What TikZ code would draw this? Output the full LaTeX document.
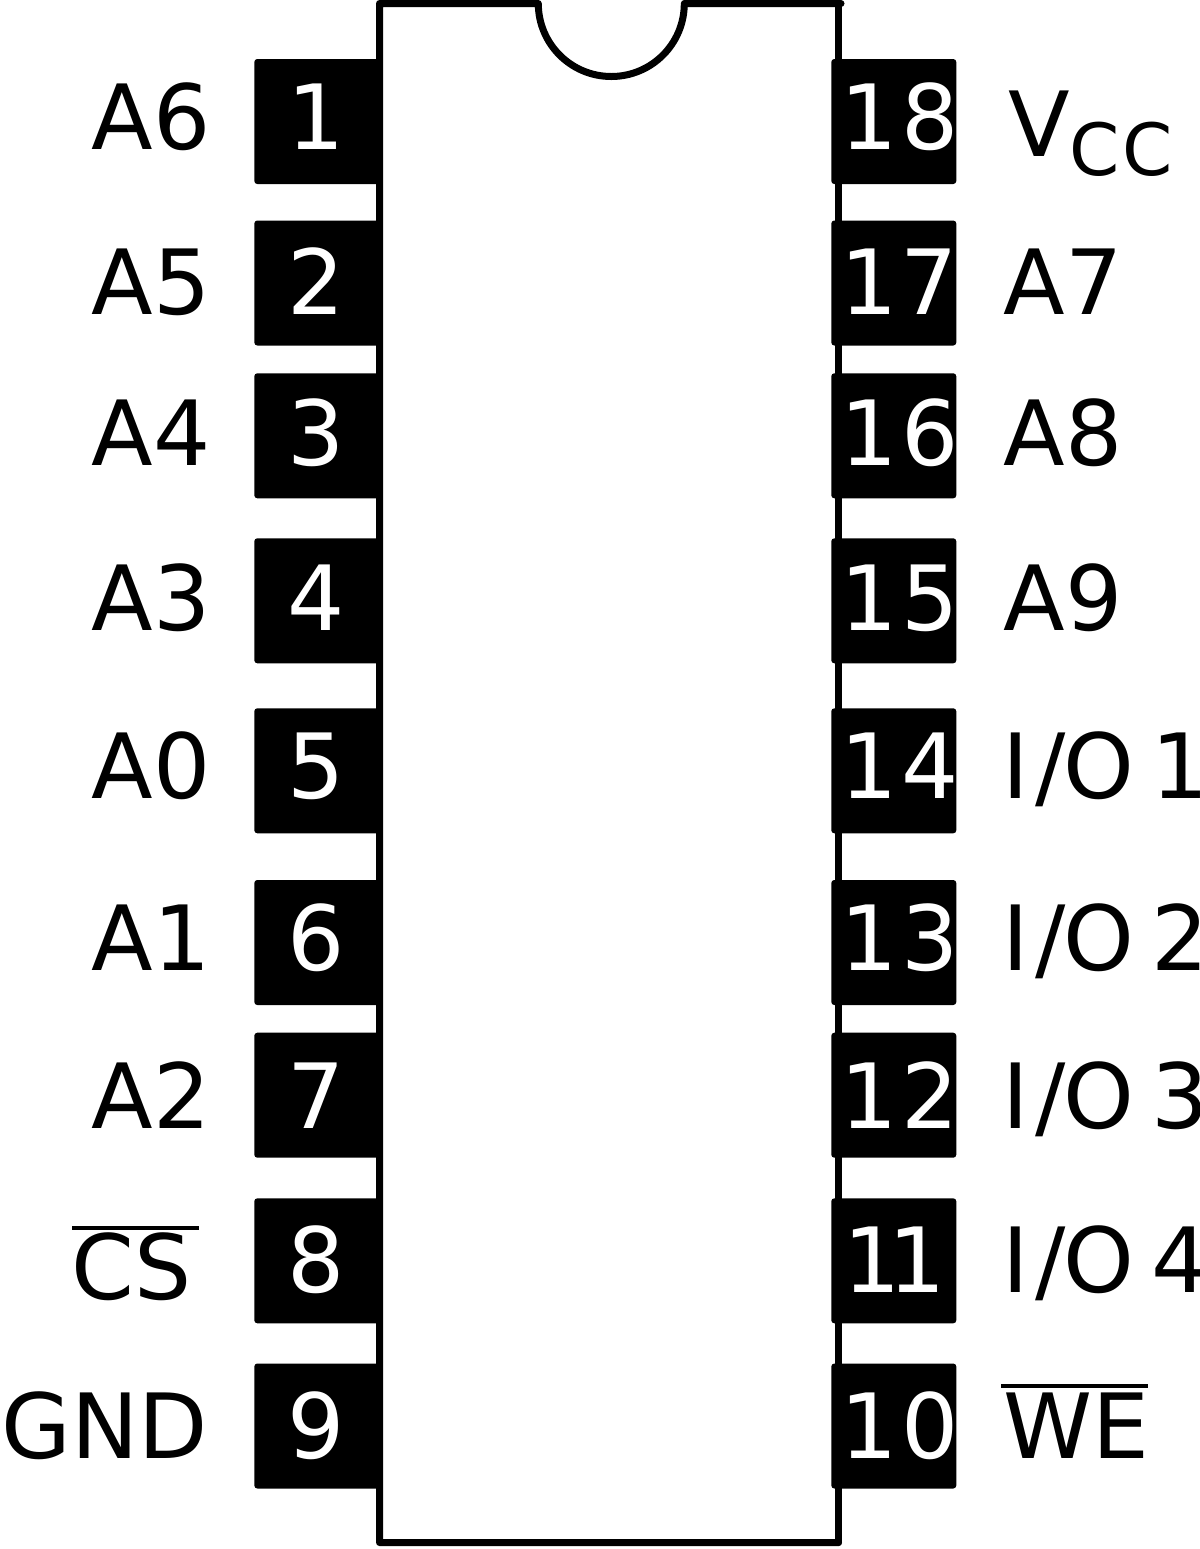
\documentclass[tikz,border=0pt]{standalone}
\usepackage{fontspec}
\setmainfont{DejaVu Sans}
\tikzset{
  pinbox/.style={fill=black,draw=none,rounded corners=1.5pt},
  pinnum/.style={text=white,anchor=base,inner sep=0pt,font=\fontsize{45}{45}\selectfont},
  pinnumr/.style={text=white,anchor=base west,inner sep=0pt,font=\fontsize{45}{45}\selectfont},
  pinlabel/.style={text=black,anchor=base west,inner sep=0pt,font=\fontsize{45}{45}\selectfont},
  chipbody/.style={draw=black,line width=3.5pt,line join=round,line cap=round},
  barline/.style={draw=black,line width=2pt}
}
\newcommand{\iolabel}[1]{I\kern3.25pt/\kern-1pt O\kern8.25pt #1}
\begin{document}
\begin{tikzpicture}[x=0.5pt,y=-0.5pt]
\useasboundingbox (0,0) rectangle (1200,1549);
\fill[white] (0,0) rectangle (1200,1549);
% left pins, under the body outline
\foreach \yc in {121.5,283,435.8,600.8,770.8,942.5,1095.2,1260.8,1426}{
  \fill[pinbox] (254.3,\yc-62.5) rectangle (382,\yc+62.5);
}
% body
\draw[chipbody] (838.5,1542.5) -- (379.5,1542.5) -- (379.5,3.5) -- (538.3,3.5)
  arc[start angle=180,end angle=0,radius=73] -- (841,3.5);
\draw[chipbody] (838.5,3.5) -- (838.5,1542.5);
% right pins, over the body outline
\foreach \yc in {121.5,283,435.8,600.8,770.8,942.5,1095.2,1260.8,1426}{
  \fill[pinbox] (831.3,\yc-62.5) rectangle (956.3,\yc+62.5);
}
% numbers
\foreach \t/\yb in {1/149,2/314,3/465,4/630,5/798,6/970,7/1128,8/1292,9/1458}{
  \node[pinnum] (n\t) at (316.5,\yb) {\t};
}
\foreach \d/\k/\yb in {8/1.8/149,7/1.6/314,6/1.8/465,5/1.8/630,4/1.8/798,3/1.8/970,2/1.8/1128,0/1.8/1458}{
  \node[pinnumr] (m\d) at (840,\yb) {1\kern\k pt\d};
}
\node[pinnumr] (m1) at (843,1292.5) {1\kern-6pt 1};
% left labels
\foreach \t/\yb in {A6/149,A5/314,A4/465,A3/630,A0/798,A1/970,A2/1128}{
  \node[pinlabel] (l\t) at (91.3,\yb) {\t};
}
\node[pinlabel] (lCS) at (71,1299) {CS};
\node[pinlabel] (lGND) at (1,1458.5) {GND};
\coordinate (csa) at (72,1228); \coordinate (csb) at (199,1228);
\draw[barline] (csa) -- (csb);
% right labels
\node[pinlabel] (lVcc) at (1008,156.5) {V\raisebox{-9.25pt}{\fontsize{36}{36}\selectfont C\kern1pt C}};
\foreach \t/\yb in {A7/314,A8/465,A9/630}{
  \node[pinlabel] (l\t) at (1003.5,\yb) {\t};
}
\node[pinlabel] (io1) at (1002,798) {\iolabel{1}};
\node[pinlabel] (io2) at (1002,970) {\iolabel{2}};
\node[pinlabel] (io3) at (1002,1128) {\iolabel{3}};
\node[pinlabel] (io4) at (1002,1292.5) {\iolabel{4}};
\node[pinlabel] (lWE) at (1003,1458) {WE};
\coordinate (wea) at (1001,1386); \coordinate (web) at (1148,1386);
\draw[barline] (wea) -- (web);
\end{tikzpicture}
\end{document}
